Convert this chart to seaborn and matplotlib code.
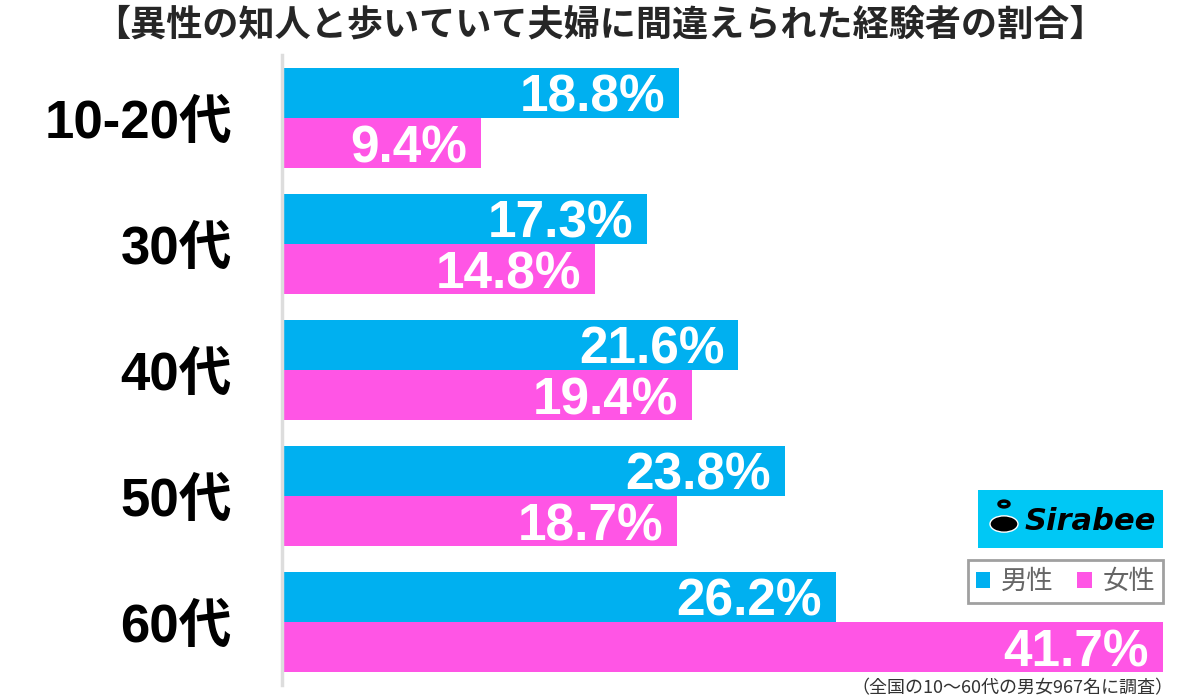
import numpy as np
import pandas as pd
import matplotlib.pyplot as plt
import seaborn as sns
from matplotlib.patches import Patch, Rectangle, Circle

# データ
categories = ['10-20代', '30代', '40代', '50代', '60代']
male = [18.8, 17.3, 21.6, 23.8, 26.2]
female = [9.4, 14.8, 19.4, 18.7, 41.7]
series = ['男性', '女性']
title = '【異性の知人と歩いていて夫婦に間違えられた経験者の割合】'
note = '（全国の10〜60代の男女967名に調査）'

colors = {'男性': '#00B0F0', '女性': '#FF55E5'}

df = pd.DataFrame({
    'age': categories * 2,
    'value': male + female,
    'sex': ['男性'] * len(categories) + ['女性'] * len(categories),
})

sns.set_theme(style='white')
plt.rcParams['font.family'] = ['Noto Sans CJK JP', 'DejaVu Sans']
num_font = ['Liberation Sans', 'Noto Sans CJK JP']

fig = plt.figure(figsize=(12, 6.99), dpi=100)
ax = fig.add_axes([282 / 1200, 1 - 685 / 699, (1163 - 282) / 1200, 630 / 699])

sns.barplot(data=df, y='age', x='value', hue='sex', order=categories,
            hue_order=series, palette=colors, orient='h', width=0.794,
            linewidth=0, saturation=1, legend=False, ax=ax)

ax.set_xlim(0, max(female + male))
ax.set_ylim(len(categories) - 0.5, -0.5)
ax.set_xlabel('')
ax.set_ylabel('')
ax.set_xticks([])
for s in ['top', 'right', 'bottom']:
    ax.spines[s].set_visible(False)
ax.spines['left'].set_color('#dddddd')
ax.spines['left'].set_linewidth(2.5)
ax.tick_params(axis='y', length=0, pad=36)
for lbl in ax.get_yticklabels():
    lbl.set_fontsize(38)
    lbl.set_fontweight('bold')
    lbl.set_family(num_font)
    lbl.set_color('black')

# 値ラベル
vals = male + female
for patch, v in zip(ax.patches, vals):
    x = patch.get_x() + patch.get_width()
    y = patch.get_y() + patch.get_height() / 2
    ax.annotate(f'{v:.1f}%', xy=(x, y), xytext=(-10, 0), textcoords='offset points',
                ha='right', va='center_baseline', color='white', fontsize=37,
                fontweight='bold', family=num_font)

fig.text(0.5, 1 - 25 / 699, title, ha='center', va='center',
         fontsize=26, fontweight='bold')
fig.text(1173 / 1200, 1 - 688 / 699, note, ha='right', va='center',
         fontsize=13, color='#333333')

# 凡例
handles = [Patch(facecolor=colors[s], edgecolor='none', label=s) for s in series]
leg = fig.legend(handles=handles, loc='upper right',
                 bbox_to_anchor=(1163 / 1200, 1 - 560 / 699), ncol=2,
                 frameon=True, fancybox=False, fontsize=19,
                 handlelength=0.55, handleheight=0.55, handletextpad=0.4,
                 columnspacing=0.9, borderpad=0.3, borderaxespad=0)
leg.get_frame().set_edgecolor('#888888')
leg.get_frame().set_linewidth(2)
for t in leg.get_texts():
    t.set_color('#666666')

# Sirabee ロゴ
fig.patches.append(Rectangle((978 / 1200, 1 - 548 / 699), 185 / 1200, 58 / 699,
                             transform=fig.transFigure, facecolor='#00C8F5',
                             edgecolor='none'))
fig.patches.append(Circle((1004 / 1200, 1 - 524 / 699), 14 / 1200,
                          transform=fig.transFigure, facecolor='black'))
fig.patches.append(Circle((1004 / 1200, 1 - 504 / 699), 5 / 1200,
                          transform=fig.transFigure, facecolor='none',
                          edgecolor='black', linewidth=2.5))
fig.text(1090 / 1200, 1 - 521 / 699, 'Sirabee', ha='center', va='center',
         fontsize=22, fontweight='bold', fontstyle='italic',
         family=['DejaVu Sans'], color='black')

fig.savefig('out.png', dpi=100)
